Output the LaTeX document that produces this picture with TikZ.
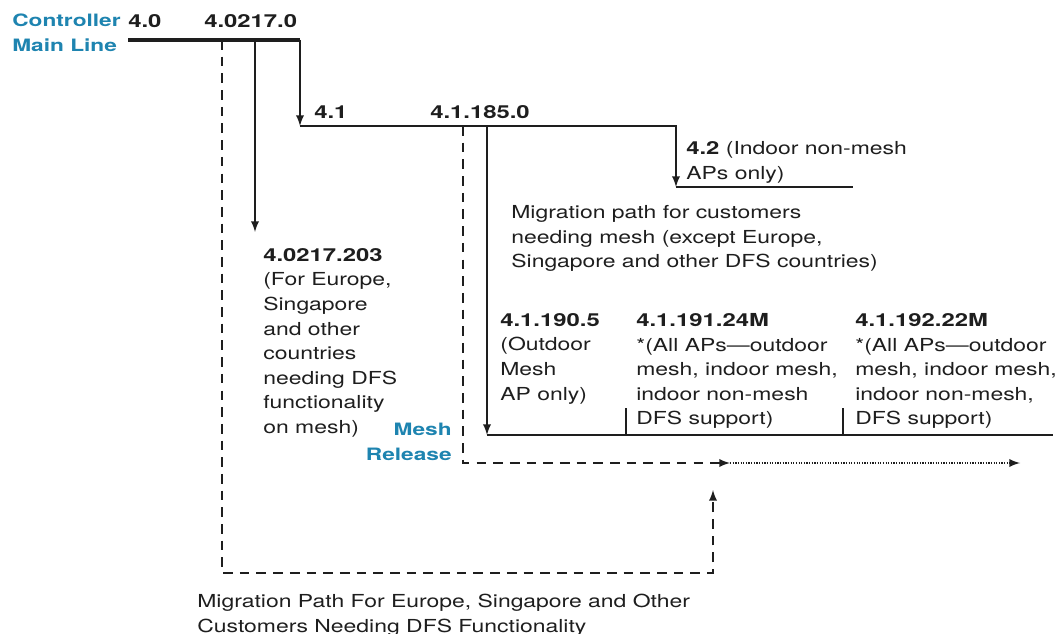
\documentclass[tikz,border=0pt]{standalone}
\usepackage{fontspec}
\setmainfont{TeX Gyre Heros}[FakeStretch=1.28, BoldFeatures={FakeStretch=1.33}]
\usetikzlibrary{calc, positioning}

\definecolor{ciscoblue}{RGB}{30,132,176}
\definecolor{inkgray}{RGB}{30,30,30}

\tikzset{
  txt/.style={anchor=north west, inner sep=0pt, align=left, text=inkgray,
    font=\fontsize{10.2}{14}\selectfont},
  ver/.style={txt, font=\fontsize{10.2}{14}\selectfont\bfseries},
  tag/.style={inner sep=0pt, text=ciscoblue,
    font=\fontsize{9.7}{14}\selectfont\bfseries},
  line/.style={draw=inkgray, line width=1.1pt},
  mainln/.style={draw=inkgray, line width=2.8pt},
  dashln/.style={draw=inkgray, line width=1.1pt, dash pattern=on 5.5pt off 4pt},
  dotln/.style={draw=inkgray, line width=1.1pt, dash pattern=on 0.7pt off 0.8pt}
}

\begin{document}
\begin{tikzpicture}[x=0.02cm, y=-0.02cm, >=latex]
  \useasboundingbox [fill=white] (0,0) rectangle (1060,634);

  % points on the lines
  \coordinate (m0) at (128,40);
  \coordinate (m1) at (300,40);
  \coordinate (eu0) at (222,40);
  \coordinate (eu1) at (222,573);
  \coordinate (eu2) at (713,573);
  \coordinate (eu3) at (713,490);
  \coordinate (e0) at (255,40);
  \coordinate (e1) at (255,232);
  \coordinate (r0) at (300,126);
  \coordinate (r1) at (676,126);
  \coordinate (r2) at (676,187);
  \coordinate (r3) at (853,187);
  \coordinate (mp0) at (463,126);
  \coordinate (mp1) at (463,463);
  \coordinate (mp2) at (730,463);
  \coordinate (mp3) at (1020,463);
  \coordinate (ms0) at (487,126);
  \coordinate (ms1) at (487,435);
  \coordinate (ms2) at (1053,435);
  \coordinate (t1) at (626,408);
  \coordinate (t2) at (843,408);

  % lines
  \draw [mainln] (m0) -- (m1);
  \draw [dashln, ->] (eu0) -- (eu1) -- (eu2) -- (eu3);
  \draw [line, ->] (e0) -- (e1);
  \draw [line, ->] (m1) -- (r0);
  \draw [line, ->] (r0) -- (r1) -- (r2);
  \draw [line] (r2) -- (r3);
  \draw [dashln, ->] (mp0) -- (mp1) -- (mp2);
  \draw [dotln, ->] (mp2) -- (mp3);
  \draw [line, ->] (ms0) -- (ms1);
  \draw [line] (ms1) -- (ms2);
  \draw [line] (t1) -- (t1 |- ms1);
  \draw [line] (t2) -- (t2 |- ms1);

  % labels
  \node [tag, anchor=north west, align=left] (ctl) at (12,14) {Controller\\Main Line};
  \node [ver] (v40) at (128,14) {4.0};
  \node [ver] (v4021) at (204,14) {4.0217.0};
  \node [ver] (v41) at (314,105) {4.1};
  \node [ver] (v41185) at (430,105) {4.1.185.0};
  \node [txt] (v42) at (686,141) {\textbf{4.2} (Indoor non-mesh\\APs only)};
  \node [txt] (mig) at (511,205) {Migration path for customers\\needing mesh (except Europe,\\Singapore and other DFS countries)};
  \node [txt] (eu203) at (263,248) {\textbf{4.0217.203}\\(For Europe,\\Singapore\\and other\\countries\\needing DFS\\functionality\\on mesh)};
  \node [txt] (v190) at (500,313) {\textbf{4.1.190.5}\\(Outdoor\\Mesh\\AP only)};
  \node [txt] (v191) at (636,313) {\textbf{4.1.191.24M}\\*(All APs---outdoor\\mesh, indoor mesh,\\indoor non-mesh\\DFS support)};
  \node [txt] (v192) at (855,313) {\textbf{4.1.192.22M}\\*(All APs---outdoor\\mesh, indoor mesh,\\indoor non-mesh,\\DFS support)};
  \node [tag, anchor=north east, align=right] (mesh) at (452,423) {Mesh\\Release};
  \node [txt] (eumig) at (197,594) {Migration Path For Europe, Singapore and Other\\Customers Needing DFS Functionality};
\end{tikzpicture}
\end{document}
